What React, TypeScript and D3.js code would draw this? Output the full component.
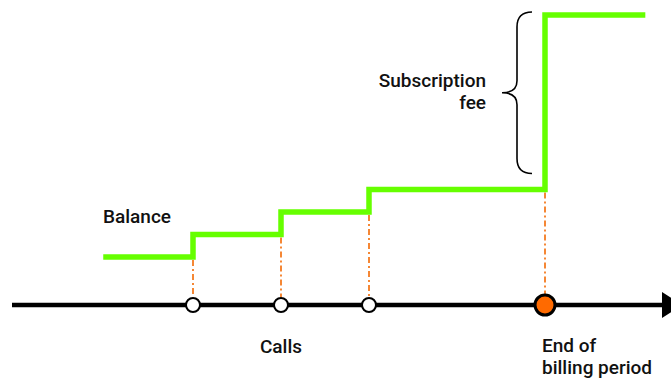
import * as d3 from "d3";
import React from "react";

const WIDTH = 671;
const HEIGHT = 379;

// timeline events (time units) and balance after each event
const startTime = -0.02;
const endTime = 6.14;
const eventTimes = [1, 2, 3, 5];
const eventKinds = ["call", "call", "call", "end"];
const balanceStart = 1;
const balanceAfter = [2, 3, 4, 11.75];

const labelBalance = "Balance";
const labelFee = ["Subscription", "fee"];
const labelCalls = "Calls";
const labelEnd = ["End of", "billing period"];

const GREEN = "#66ff00";
const ORANGE = "#ff6a00";
const DASH = "#f47b20";
const FONT = "Roboto, 'Liberation Sans', Arial, sans-serif";

const AXIS_Y = 305;

export default function App() {
    const x = d3.scaleLinear().domain([0, 5]).range([105, 545]);
    const y = d3.scaleLinear().domain([0, 11.75]).range([279.5, 15]);

    const steps: [number, number][] = [[startTime, balanceStart]];
    eventTimes.forEach((t, i) => steps.push([t, balanceAfter[i]]));
    steps.push([endTime, balanceAfter[balanceAfter.length - 1]]);

    const stepLine = d3
        .line<[number, number]>()
        .x((d) => x(d[0]))
        .y((d) => y(d[1]))
        .curve(d3.curveStepAfter);

    const before = [balanceStart, ...balanceAfter.slice(0, -1)];

    // brace spanning the subscription fee
    const feeIdx = eventKinds.indexOf("end");
    const bTop = y(balanceAfter[feeIdx]) - 3;
    const bBot = y(before[feeIdx]) - 16;
    const bMid = (bTop + bBot) / 2;
    const sx = 517;
    const brace = `M${sx + 15},${bTop} Q${sx},${bTop} ${sx},${bTop + 15} L${sx},${bMid - 12} Q${sx},${bMid} ${sx - 15},${bMid} Q${sx},${bMid} ${sx},${bMid + 12} L${sx},${bBot - 15} Q${sx},${bBot} ${sx + 15},${bBot}`;

    const callXs = eventTimes.filter((_, i) => eventKinds[i] === "call").map((t) => x(t));
    const endX = x(eventTimes[feeIdx]);

    return (
        <svg
            width={WIDTH}
            height={HEIGHT}
            style={{ position: "absolute", left: 0, top: 0, background: "#fff" }}
            fontFamily={FONT}
            fontSize={19}
            fontWeight={500}
            fill="#111"
        >
            {/* dash-dot drop lines */}
            {eventTimes.map((t, i) => (
                <line
                    key={"d" + i}
                    x1={x(t)}
                    x2={x(t)}
                    y1={y(before[i]) + 3}
                    y2={AXIS_Y - (eventKinds[i] === "end" ? 11 : 8)}
                    stroke={DASH}
                    strokeWidth={1.8}
                    strokeDasharray="6,3,2,3"
                />
            ))}

            {/* time axis */}
            <line x1={12} x2={664} y1={AXIS_Y} y2={AXIS_Y} stroke="#000" strokeWidth={4.5} />
            <path d={`M662,${AXIS_Y - 13} L682,${AXIS_Y} L662,${AXIS_Y + 13} Z`} fill="#000" />

            {/* balance */}
            <path d={stepLine(steps) ?? ""} fill="none" stroke={GREEN} strokeWidth={5.5} strokeLinejoin="miter" />

            {/* events */}
            {eventTimes.map((t, i) =>
                eventKinds[i] === "call" ? (
                    <circle key={"c" + i} cx={x(t)} cy={AXIS_Y} r={7} fill="#fff" stroke="#000" strokeWidth={2} />
                ) : (
                    <circle key={"c" + i} cx={x(t)} cy={AXIS_Y} r={10} fill={ORANGE} stroke="#000" strokeWidth={3} />
                )
            )}

            <path d={brace} fill="none" stroke="#000" strokeWidth={1.6} />

            <text x={103} y={223}>{labelBalance}</text>
            <text x={486} y={87} textAnchor="end">{labelFee[0]}</text>
            <text x={486} y={109} textAnchor="end">{labelFee[1]}</text>
            <text x={d3.mean(callXs)} y={353} textAnchor="middle">{labelCalls}</text>
            <text x={endX - 3} y={352}>{labelEnd[0]}</text>
            <text x={endX - 3} y={374}>{labelEnd[1]}</text>
        </svg>
    );
}
